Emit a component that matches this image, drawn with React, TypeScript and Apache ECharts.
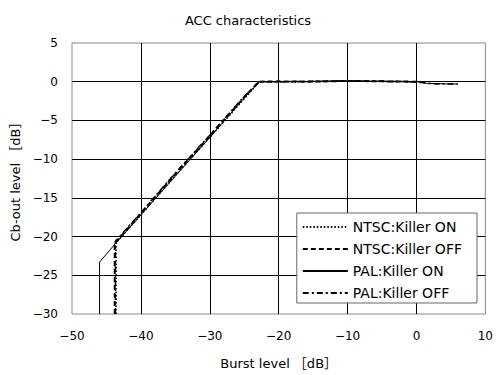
import React, { useEffect, useRef } from "react";
import * as echarts from "echarts";

const titleText = "ACC characteristics";
const xAxisName = "Burst level ［dB］";
const yAxisName = "Cb-out level ［dB］";

const ntscOnX = [-43.6, -43.6, -40, -35, -30, -25, -22.8, -20, -16, -10, -5, 0];
const ntscOnY = [-30, -20.8, -17.2, -12.1, -7.2, -2.2, 0, 0, 0, 0.1, 0.05, 0];
const ntscOffX = [-43.8, -43.8, -40, -35, -30, -25, -22.9, -20, -16, -10, -5, 0];
const ntscOffY = [-30, -20.9, -17.0, -11.9, -7.0, -2.0, 0, 0.05, 0, 0.1, 0.05, 0];
const palOnX = [-46, -46, -43.6, -40, -35, -30, -25, -22.8, -20, -10, 0, 1.5, 3, 6];
const palOnY = [-30, -23.3, -20.8, -17.2, -12.2, -7.2, -2.1, 0, 0, 0.1, 0, -0.2, -0.25, -0.3];
const palOffX = [-43.7, -43.7, -40, -35, -30, -25, -22.8, -20, -10, 0, 1.5, 3, 6];
const palOffY = [-30, -20.6, -16.9, -11.8, -6.9, -1.9, 0, 0, 0.1, 0, -0.2, -0.3, -0.3];

const seriesNames = ["NTSC:Killer ON", "NTSC:Killer OFF", "PAL:Killer ON", "PAL:Killer OFF"];

const zip = (xs: number[], ys: number[]) => xs.map((x, i) => [x, ys[i]]);

const font = "'DejaVu Sans', 'Noto Sans CJK JP', sans-serif";
const fmt = (v: number) => String(v).replace("-", "\u2212");

export default function App() {
  const ref = useRef<HTMLDivElement>(null);
  useEffect(() => {
    document.body.style.margin = "0";
    const chart = echarts.init(ref.current!, null, { renderer: "svg" });
    const mk = (i: number, data: number[][], type: any, width: number) => ({
      name: seriesNames[i],
      type: "line",
      data,
      symbol: "none",
      showSymbol: false,
      lineStyle: { color: "#000", width, type },
      itemStyle: { color: "#000" },
      emphasis: { disabled: true },
    });
    chart.setOption({
      animation: false,
      title: {
        text: titleText,
        left: "center",
        top: 9,
        textStyle: { fontFamily: font, fontSize: 13, fontWeight: "normal", color: "#000" },
      },
      grid: {
        left: 72,
        right: 9,
        top: 43,
        bottom: 61,
        show: true,
        borderColor: "#888",
        borderWidth: 1,
        backgroundColor: "#fff",
      },
      legend: {
        orient: "vertical",
        right: 19,
        top: 213,
        itemWidth: 45,
        itemHeight: 14,
        itemGap: 8,
        padding: [7, 15, 3, 5],
        backgroundColor: "#fff",
        borderColor: "#666",
        borderWidth: 1,
        borderRadius: 0,
        itemStyle: { opacity: 0, borderWidth: 0 },
        textStyle: { fontFamily: font, fontSize: 14, color: "#000" },
        data: seriesNames.map((n) => ({ name: n })),
      },
      xAxis: {
        type: "value",
        min: -50,
        max: 10,
        interval: 10,
        name: xAxisName,
        nameLocation: "middle",
        nameGap: 43,
        nameTextStyle: { fontFamily: font, fontSize: 13, color: "#000" },
        axisLine: { show: false },
        axisTick: { show: false },
        axisLabel: { fontFamily: font, fontSize: 12, color: "#000", margin: 16, formatter: fmt },
        splitLine: { show: true, showMinLine: false, showMaxLine: false, lineStyle: { color: "#000", width: 1 } },
      },
      yAxis: {
        type: "value",
        min: -30,
        max: 5,
        interval: 5,
        name: yAxisName,
        nameLocation: "middle",
        nameGap: 47,
        nameTextStyle: { fontFamily: font, fontSize: 13, color: "#000" },
        axisLine: { show: false },
        axisTick: { show: false },
        axisLabel: { fontFamily: font, fontSize: 12, color: "#000", margin: 14, formatter: fmt },
        splitLine: { show: true, showMinLine: false, showMaxLine: false, lineStyle: { color: "#000", width: 1 } },
      },
      series: [
        mk(0, zip(ntscOnX, ntscOnY), [1.5, 2], 1.5),
        mk(1, zip(ntscOffX, ntscOffY), [5, 3], 2),
        mk(2, zip(palOnX, palOnY), "solid", 1),
        mk(3, zip(palOffX, palOffY), [6, 3, 2, 3], 1.5),
      ],
    });
    return () => chart.dispose();
  }, []);
  return <div ref={ref} style={{ width: 496, height: 375 }} />;
}
